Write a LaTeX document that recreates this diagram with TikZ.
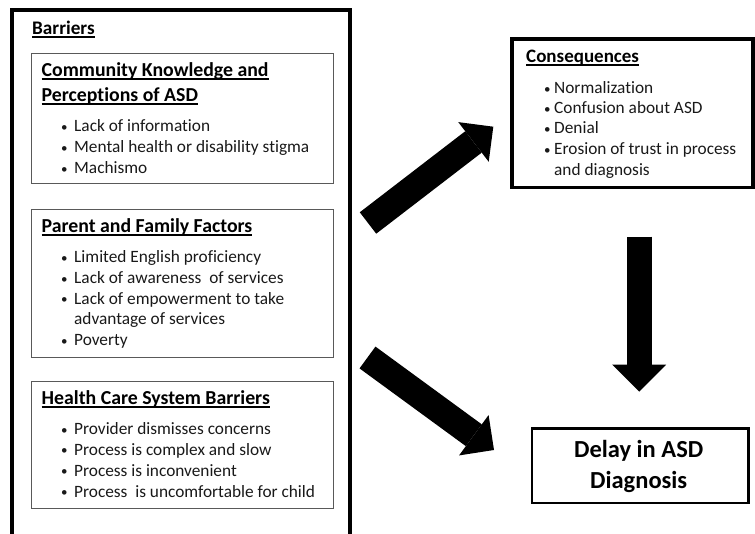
\documentclass[tikz,border=0pt]{standalone}
\usepackage{fontspec}
\setmainfont{Carlito}[Ligatures={NoCommon}]
\usetikzlibrary{arrows.meta}
\newcommand\ulx[1]{\setbox0\hbox{#1}\rlap{\rule[-2.6pt]{\wd0}{1.4pt}}\box0}
\newcommand\bitem[2]{\makebox[#1][l]{\raisebox{0.6pt}{\fontsize{13}{13}\selectfont\textbullet}}#2}
\tikzset{
  outerbox/.style={draw=black, line width=3.5pt},
  innerbox/.style={draw=black!65, line width=1pt},
  consbox/.style={draw=black, line width=3.5pt},
  delaybox/.style={draw=black, line width=2.6pt},
  txt/.style={anchor=base west, inner sep=0pt, text=black!90, font=\fontsize{17.3}{20}\selectfont},
  ttl/.style={anchor=base west, inner sep=0pt, text=black, font=\fontsize{19.8}{22}\selectfont\bfseries},
  bigarrow/.style={line width=27pt, draw=black, -{Triangle[length=25pt, width=50pt, line width=0pt]}},
  downarrow/.style={line width=25pt, draw=black, -{Triangle[length=27pt, width=54pt, line width=0pt]}},
}
\begin{document}
\begin{tikzpicture}[x=1pt, y=-1pt]
\useasboundingbox (0,0) rectangle (755,534);
\begin{scope}
\clip (0,0) rectangle (755,534);
% outer Barriers box
\draw[outerbox] (12,545) -- (12,10) -- (350,10) -- (350,545);
\coordinate (outer) at (181,10);
% consequences box
\draw[consbox] (512,39) rectangle (753,187.5);
\end{scope}
\node[ttl, font=\fontsize{19.2}{22}\selectfont\bfseries] (barriers) at (32,35) {\ulx{Barriers}};

% box 1
\node[innerbox, anchor=north west, minimum width=301.7pt, minimum height=130pt, inner sep=0pt] (box1) at (31,53.3) {};
\node[ttl] (t1a) at (41.5,77) {\ulx{Community Knowledge and}};
\node[ttl] (t1b) at (41.5,102) {\ulx{Perceptions of ASD}};
\node[txt] (b1a) at (61,132) {\bitem{13pt}{Lack of information}};
\node[txt] (b1b) at (61,153) {\bitem{13pt}{Mental health or disability stigma}};
\node[txt] (b1c) at (61,174) {\bitem{13pt}{Machismo}};

% box 2
\node[innerbox, anchor=north west, minimum width=301.7pt, minimum height=147.7pt, inner sep=0pt] (box2) at (31,209) {};
\node[ttl] (t2a) at (41.5,233) {\ulx{Parent and Family Factors}};
\node[txt] (b2a) at (61,263) {\bitem{13pt}{Limited English proficiency}};
\node[txt] (b2b) at (61,284) {\bitem{13pt}{Lack of awareness\ \ of services}};
\node[txt] (b2c) at (61,304.5) {\bitem{13pt}{Lack of empowerment to take}};
\node[txt] (b2d) at (74,325) {advantage of services};
\node[txt] (b2e) at (61,346) {\bitem{13pt}{Poverty}};

% box 3
\node[innerbox, anchor=north west, minimum width=301.7pt, minimum height=126.7pt, inner sep=0pt] (box3) at (31,381) {};
\node[ttl] (t3a) at (41.5,405) {\ulx{Health Care System Barriers}};
\node[txt] (b3a) at (61,435) {\bitem{13pt}{Provider dismisses concerns}};
\node[txt] (b3b) at (61,455.5) {\bitem{13pt}{Process is complex and slow}};
\node[txt] (b3c) at (61,476) {\bitem{13pt}{Process is inconvenient}};
\node[txt] (b3d) at (61,497) {\bitem{13pt}{Process\ \ is uncomfortable for child}};

% consequences text
\coordinate (cons) at (632,113);
\node[ttl, font=\fontsize{19}{22}\selectfont\bfseries] (tc) at (526,63) {\ulx{Consequences}};
\node[txt] (c1) at (544,94) {\bitem{10pt}{Normalization}};
\node[txt] (c2) at (544,114) {\bitem{10pt}{Confusion about ASD}};
\node[txt] (c3) at (544,134) {\bitem{10pt}{Denial}};
\node[txt] (c4) at (544,155) {\bitem{10pt}{Erosion of trust in process}};
\node[txt] (c5) at (554,176) {and diagnosis};

% delay box
\node[delaybox, anchor=north west, minimum width=216.5pt, minimum height=74.5pt, inner sep=0pt] (delay) at (530.5,427) {};
\node[anchor=base, inner sep=0pt, font=\fontsize{24.5}{26}\selectfont\bfseries] (d1) at (638.7,457.5) {Delay in ASD};
\node[anchor=base, inner sep=0pt, font=\fontsize{24.5}{26}\selectfont\bfseries] (d2) at (638.7,488.5) {Diagnosis};

% arrows
\coordinate (upTail) at (368,223);
\coordinate (upTip) at (493.3,126.7);
\coordinate (drTail) at (367.5,357.5);
\coordinate (drTip) at (494,450);
\coordinate (dnTail) at (639.2,236.7);
\coordinate (dnTip) at (639.2,391.7);
\draw[bigarrow] (upTail) -- (upTip);
\draw[bigarrow] (drTail) -- (drTip);
\draw[downarrow] (dnTail) -- (dnTip);
\end{tikzpicture}
\end{document}
